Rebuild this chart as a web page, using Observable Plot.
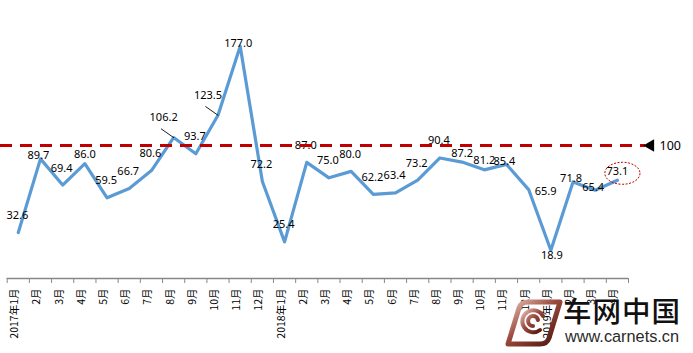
<!DOCTYPE html>
<html><head><meta charset="utf-8">
<script src="https://cdn.jsdelivr.net/npm/d3@7"></script>
<script src="https://cdn.jsdelivr.net/npm/@observablehq/plot@0.6"></script>
<style>
body{margin:0;background:#fff}
#wrap{position:relative;width:693px;height:353px;overflow:hidden}
#wm{position:absolute;left:500px;top:296px;width:193px;height:57px;pointer-events:none}
#wm .cn{position:absolute;left:63px;top:-4px;font-family:"Noto Sans CJK SC",sans-serif;font-size:28.5px;font-weight:500;color:#111;letter-spacing:1px;line-height:36px;white-space:nowrap}
#wm .url{position:absolute;left:65px;top:31px;font-family:"Liberation Sans",Arial,sans-serif;font-size:16.3px;color:#2a2a2a;line-height:18px;white-space:nowrap}
#wm svg{position:absolute;left:2px;top:2px}
</style>
</head><body><div id="wrap"></div>
<script>
const monthLabels = ["2017年1月","2月","3月","4月","5月","6月","7月","8月","9月","10月","11月","12月",
  "2018年1月","2月","3月","4月","5月","6月","7月","8月","9月","10月","11月","12月",
  "2019年1月","2月","3月","4月"];
const values = [32.6,89.7,69.4,86.0,59.5,66.7,80.6,106.2,93.7,123.5,177.0,72.2,
  25.4,87.0,75.0,80.0,62.2,63.4,73.2,90.4,87.2,81.2,85.4,65.9,
  18.9,71.8,65.4,73.1];
// label placement codes: a=above, m=slightly above, o=on point, r=right, b=below, l=with leader line
const labelPlacement = ["a","o","a","m","a","a","a","l","a","l","o","a",
  "a","a","a","a","a","a","a","a","m","m","o","r",
  "b","o","o","m"];
const refValue = 100;
const refLabel = "100";
const highlightIndex = 27;
const yDomain = [-3, 200];

const data = values.map((v, i) => ({i, x: i + 0.5, v, label: v.toFixed(1), month: monthLabels[i], place: labelPlacement[i]}));
const offsets = {a: [-1, -17], m: [0, -9], o: [-2, -3], r: [17, 2], b: [1, 5], l: [-10, -20]};
const n = values.length;

const ellipseSymbol = {
  draw(ctx, size) {
    const r = Math.sqrt(size / Math.PI), rx = r * 1.6, ry = r, k = 0.5523;
    ctx.moveTo(rx, 0);
    ctx.bezierCurveTo(rx, ry * k, rx * k, ry, 0, ry);
    ctx.bezierCurveTo(-rx * k, ry, -rx, ry * k, -rx, 0);
    ctx.bezierCurveTo(-rx, -ry * k, -rx * k, -ry, 0, -ry);
    ctx.bezierCurveTo(rx * k, -ry, rx, -ry * k, rx, 0);
    ctx.closePath();
  }
};
const leaderShape = {draw(ctx, l) { ctx.moveTo(0, 0); ctx.lineTo(0, -l); }};

const labelFont = {fontFamily: "'Noto Sans', 'Liberation Sans', sans-serif", fontSize: 11, fill: "#000"};

const chart = Plot.plot({
  width: 693,
  height: 353,
  marginLeft: 0,
  marginRight: 48,
  marginTop: 10,
  marginBottom: 75,
  style: {background: "#fff", overflow: "visible"},
  x: {type: "linear", domain: [0, n], range: [6.7, 628], axis: null, label: null},
  y: {domain: yDomain, range: [278, 16], axis: null, label: null},
  marks: [
    Plot.ruleY([yDomain[0]], {x1: 0, x2: n, stroke: "#888", strokeWidth: 1.5}),
    Plot.axisX(d3.range(n + 1), {tickSize: 5, tickFormat: () => "", stroke: "#888", anchor: "bottom", label: null}),
    Plot.text(data, {x: "x", frameAnchor: "bottom", text: "month", rotate: -90, textAnchor: "end", dy: 10,
      fontFamily: "'Noto Sans CJK SC', sans-serif", fontSize: 10.5, fill: "#000"}),
    Plot.line(data, {x: "x", y: "v", stroke: "#5b9bd5", strokeWidth: 3.2}),
    Plot.vector(data.filter(d => d.place === "l"), {x: "x", y: "v", length: 15, rotate: -55, anchor: "start",
      shape: leaderShape, stroke: "#000", strokeWidth: 0.8}),
    ...Object.entries(offsets).map(([k, [dx, dy]]) =>
      Plot.text(data.filter(d => d.place === k), {x: "x", y: "v", text: "label", dx, dy, ...labelFont})),
    Plot.dot(data.filter(d => d.i === highlightIndex), {x: "x", y: "v", r: 11, symbol: ellipseSymbol, dx: 5, dy: -7,
      fill: "none", stroke: "#c00000", strokeWidth: 1, strokeDasharray: "2,1.5"}),
    Plot.ruleY([refValue], {stroke: "#c00000", strokeWidth: 3, strokeDasharray: "12,8"}),
    Plot.dot([refValue], {y: d => d, frameAnchor: "right", dx: 5, symbol: "triangle2", r: 6, rotate: -90, fill: "#000"}),
    Plot.text([refLabel], {y: () => refValue, frameAnchor: "right", dx: 14, textAnchor: "start",
      fontFamily: "'Noto Sans', sans-serif", fontSize: 12.5, fill: "#000", text: d => d})
  ]
});
const wrap = document.getElementById("wrap");
wrap.appendChild(chart);

const wm = document.createElement("div");
wm.id = "wm";
wm.innerHTML = `
<svg width="62" height="52" viewBox="0 0 62 52">
  <defs><linearGradient id="lg" x1="0" y1="0" x2="1" y2="1">
    <stop offset="0" stop-color="#e7c2b6"/><stop offset="0.45" stop-color="#9a4a3c"/><stop offset="1" stop-color="#4a130c"/>
  </linearGradient></defs>
  <path d="M6,46 L17,10 Q19,4 26,4 L58,4 L47,40 Q45,46 38,46 Z" fill="none" stroke="url(#lg)" stroke-width="5" stroke-linejoin="round"/>
  <path d="M41,18 A11,11 0 1 0 38,32 M36,22 A5,5 0 1 0 31,28" fill="none" stroke="url(#lg)" stroke-width="4" stroke-linecap="round"/>
</svg>
<div class="cn">车网中国</div>
<div class="url">www.carnets.cn</div>`;
wrap.appendChild(wm);
</script>
</body></html>
